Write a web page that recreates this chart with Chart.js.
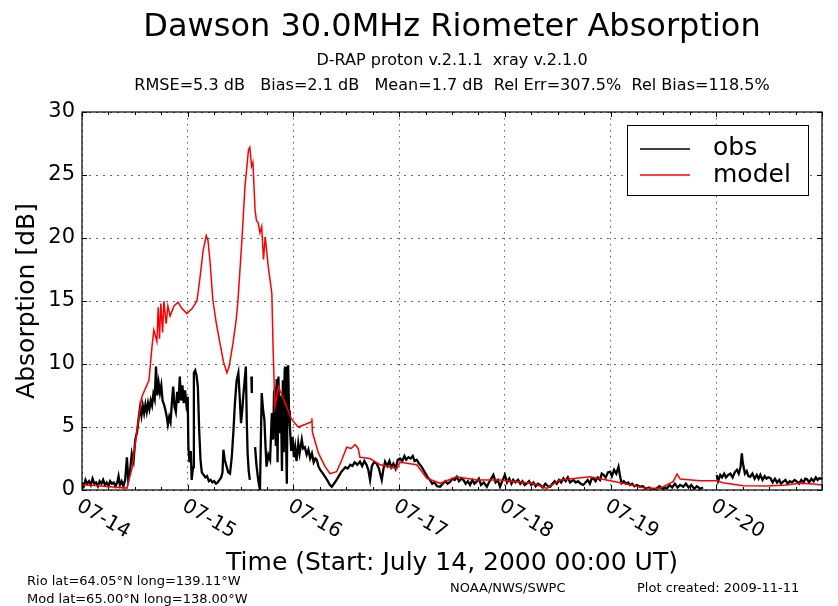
<!DOCTYPE html>
<html>
<head>
<meta charset="utf-8">
<script src="https://cdn.jsdelivr.net/npm/chart.js@4/dist/chart.umd.min.js"></script>
<style>
  html, body { margin: 0; padding: 0; background: #fff; }
  #wrap { width: 838px; height: 606px; }
</style>
</head>
<body>
<div id="wrap"><canvas id="riometerChart" width="838" height="606"></canvas></div>
<script>
// hours since 2000-07-14 00:00 UT
const dayLabels = ["07-14", "07-15", "07-16", "07-17", "07-18", "07-19", "07-20", ""];
const yTicks = [0, 5, 10, 15, 20, 25, 30];

const obsHours = [
    0.0, 0.4, 0.8, 1.2, 1.6, 2.0, 2.4, 2.8, 3.2, 3.6, 4.0, 4.4, 4.8, 5.2, 5.6, 6.0, 6.4, 6.8, 7.2, 7.6,
    8.0, 8.3, 8.6, 9.0, 9.4, 9.8, 10.2, 10.5, 10.9, 11.3, 11.7, 12.1, 12.5, 12.9, 13.2, 13.5, 13.8, 14.1, 14.4, 14.7,
    15.0, 15.3, 15.6, 15.9, 16.2, 16.5, 16.8, 17.1, 17.4, 17.7, 18.0, 18.3, 18.6, 18.9, 19.2, 19.5, 19.8, 20.1, 20.4, 20.7,
    21.0, 21.3, 21.6, 21.9, 22.2, 22.5, 22.8, 23.1, 23.4, 23.7, 24.0, 24.15, 24.4, 24.7, 24.9, 25.2, 25.4, 25.7, 26.0, 26.3,
    26.6, 26.9, 27.2, 27.6, 28.0, 28.4, 28.8, 29.2, 29.6, 30.0, 30.4, 30.8, 31.2, 31.6, 31.9, 32.1, 32.4, 32.8, 33.2, 33.6,
    34.0, 34.35, 34.7, 35.1, 35.5, 35.8, 36.1, 36.4, 36.6, 36.9, 37.2, 37.4, 37.6, 37.85, 38.1, 38.3, 38.45, 38.55, 38.8, 39.3,
    39.6, 40.0, 40.4, 40.8, 41.1, 41.4, 41.7, 41.9, 42.3, 42.7, 43.1, 43.4, 43.6, 43.8, 44.0, 44.2, 44.4, 44.6, 44.8, 45.0,
    45.2, 45.4, 45.6, 45.8, 46.0, 46.1, 46.3, 46.5, 46.7, 46.8, 47.0, 47.2, 47.5, 47.8, 48.1, 48.4, 48.7, 49.1, 49.4, 49.9,
    50.2, 50.6, 51.0, 51.4, 51.8, 52.2, 52.6, 53.0, 53.3, 53.7, 54.1, 54.7, 55.2, 55.8, 56.3, 56.7, 57.2, 57.8, 58.3, 58.8,
    59.3, 59.8, 60.3, 60.9, 61.4, 61.9, 62.5, 63.1, 63.6, 64.1, 64.6, 65.0, 65.4, 65.8, 66.3, 66.9, 67.4, 68.05, 68.4, 68.8,
    69.3, 69.8, 70.2, 70.7, 71.2, 71.7, 72.2, 72.7, 73.2, 73.6, 74.1, 74.6, 75.1, 75.5, 76.0, 76.5, 77.0, 77.5, 78.0, 78.5,
    79.0, 79.5, 80.0, 80.6, 81.3, 81.9, 82.5, 83.0, 83.6, 84.1, 84.6, 85.1, 85.6, 86.1, 86.6, 87.1, 87.6, 88.1, 88.6, 89.1,
    89.6, 90.1, 90.6, 91.2, 91.9, 92.4, 92.9, 93.4, 93.9, 94.4, 94.9, 95.4, 96.0, 96.5, 97.0, 97.5, 97.9, 98.4, 99.0, 99.5,
    100.0, 100.5, 101.0, 101.5, 102.0, 102.5, 103.0, 103.5, 104.0, 104.6, 105.2, 105.8, 106.3, 106.8, 107.3, 107.8, 108.3, 108.8, 109.3, 109.8,
    110.3, 110.8, 111.6, 112.1, 112.6, 113.2, 113.8, 114.3, 114.8, 115.3, 115.7, 116.1, 116.6, 117.1, 117.6, 118.0, 118.4, 118.9, 119.4, 119.9,
    120.3, 120.8, 121.3, 121.8, 122.1, 122.5, 123.0, 123.5, 124.0, 124.4, 124.9, 125.4, 126.0, 126.7, 127.3, 128.0, 128.7, 129.7, 130.4, 131.1,
    131.8, 132.5, 132.8, 133.4, 134.0, 134.6, 135.2, 135.8, 136.5, 137.1, 137.7, 138.3, 139.0, 139.6, 140.3, 141.0, 142.5, 144.1, 144.4, 144.9,
    145.3, 145.8, 146.2, 146.7, 147.2, 147.7, 148.2, 148.7, 149.1, 149.5, 149.8, 150.0, 150.2, 150.5, 150.9, 151.3, 151.7, 152.2, 152.7, 153.2,
    153.6, 154.0, 154.5, 155.0, 155.4, 155.8, 156.3, 156.8, 157.3, 157.8, 158.3, 158.7, 159.2, 159.7, 160.2, 160.7, 161.2, 161.8, 162.3, 162.8,
    163.3, 163.8, 164.2, 164.6, 165.1, 165.6, 166.1, 166.6, 167.0, 167.4, 168.0
];
const obsDb = [
    0.6, 0.3, 0.8, 0.5, 0.7, 0.4, 0.9, 0.5, 0.6, 0.3, 0.7, 0.5, 0.8, 0.4, 0.6, 0.3, 0.7, 0.5, 0.6, 0.3,
    0.6, 1.1, 0.4, 0.7, 0.3, 0.8, 2.6, 0.8, 1.5, 2.9, 2.3, 4.0, 4.6, 5.8, 6.6, 5.9, 6.7, 6.1, 6.8, 6.2,
    6.9, 6.4, 7.1, 6.7, 7.6, 7.2, 9.8, 7.5, 8.5, 7.7, 8.3, 7.1, 6.8, 6.4, 5.9, 5.2, 5.8, 5.4, 6.9, 8.2,
    6.6, 6.2, 7.8, 6.9, 9.0, 7.1, 8.3, 6.9, 7.9, 6.8, 7.4, 3.4, 2.2, 3.1, 0.8, 1.8, 9.3, 9.5, 9.1, 8.2,
    4.8, 2.4, 1.4, 1.2, 1.0, 1.1, 0.7, 0.8, 0.6, 0.7, 0.5, 0.6, 0.8, 1.0, 1.4, 3.2, 2.4, 1.9, 1.4, 1.3,
    2.6, 4.5, 6.8, 8.7, 9.3, 7.4, 5.3, 6.4, 7.4, 8.6, 9.8, 5.6, 2.9, 1.5, 0.8, null, 9.0, 7.7, null, 3.4,
    2.0, 0.8, 0.0, 7.7, 6.4, 5.6, 3.2, 1.85, 2.8, 2.4, 6.1, 4.0, 7.8, 8.2, 3.5, 8.8, 2.2, 9.0, 4.5, 7.5,
    6.1, 1.5, 8.7, 3.0, 9.4, 9.8, 4.5, 0.5, 9.2, 9.9, 6.3, 5.0, 3.1, 4.2, 2.6, 3.4, 2.3, 3.7, 2.9, 4.0,
    3.3, 3.4, 2.8, 3.2, 2.5, 2.9, 2.2, 2.5, 2.4, 1.85, 1.6, 1.3, 1.05, 0.7, 0.4, 0.26, 0.5, 0.8, 1.1, 1.4,
    1.6, 1.8, 1.7, 2.0, 1.9, 2.2, 2.0, 2.25, 1.9, 2.3, 2.0, 1.6, 0.8, 1.9, 2.2, 2.1, 1.7, 0.8, 1.6, 2.25,
    1.9, 2.3, 1.8, 2.1, 1.7, 2.4, 2.5, 2.3, 2.7, 2.4, 2.6, 2.5, 2.7, 2.3, 2.4, 2.1, 1.9, 1.6, 1.3, 1.0,
    0.8, 0.5, 0.6, 0.3, 0.26, 0.5, 0.7, 0.5, 0.66, 0.9, 0.8, 1.05, 0.7, 0.9, 0.8, 0.5, 0.7, 0.4, 0.8, 0.5,
    0.66, 0.9, 0.4, 0.6, 0.26, 0.6, 0.9, 1.2, 0.6, 0.8, 0.26, 0.7, 1.2, 0.6, 0.9, 0.5, 0.8, 0.6, 0.8, 0.5,
    0.7, 0.4, 0.53, 0.7, 0.4, 0.6, 0.3, 0.5, 0.4, 0.2, 0.5, 0.3, 0.26, 0.5, 0.7, 0.5, 0.8, 0.6, 0.93, 0.7,
    1.0, 0.6, 0.8, 0.6, 0.7, 0.5, 0.4, 0.6, 0.8, 0.5, 0.9, 0.93, 0.7, 1.0, 0.8, 1.3, 1.2, 1.0, 1.4, 1.45,
    1.1, 1.6, 1.3, 1.85, 1.2, 0.53, 0.7, 0.5, 0.6, 0.4, 0.5, 0.3, 0.4, 0.26, 0.3, 0.1, 0.2, 0.0, 0.1, 0.3,
    0.1, 0.2, 0.13, 0.4, 0.2, 0.5, 0.2, 0.4, 0.26, 0.5, 0.2, 0.4, 0.1, 0.3, 0.1, 0.2, null, 1.2, 0.7, 1.2,
    1.0, 1.3, 1.0, 1.2, 1.3, 1.0, 1.4, 1.6, 1.3, 1.8, 2.9, 2.2, 1.85, 1.3, 1.5, 1.1, 1.05, 1.3, 0.9, 1.2,
    0.9, 1.2, 0.8, 1.1, 0.9, 1.0, 0.93, 0.6, 0.9, 0.6, 0.8, 0.5, 0.66, 0.8, 0.5, 0.7, 0.6, 0.8, 0.66, 0.5,
    0.8, 0.6, 0.9, 0.85, 0.6, 0.9, 0.7, 1.0, 0.8, 0.93, 0.9
];

const modelHours = [
    0.0, 3.0, 6.4, 10.2, 11.4, 12.5, 13.6, 15.2, 15.9, 16.3, 17.0, 17.3, 17.6, 17.9, 18.3, 18.6, 19.1, 19.5, 20.0, 20.9,
    21.8, 22.7, 23.8, 25.0, 26.1, 26.8, 27.5, 28.2, 28.6, 29.1, 29.7, 30.5, 31.3, 32.1, 32.9, 33.4, 34.3, 35.0, 35.4, 36.3,
    37.0, 37.8, 38.1, 38.5, 38.8, 39.3, 39.6, 40.0, 40.4, 40.8, 41.2, 41.6, 42.3, 43.1, 43.4, 43.8, 44.6, 46.1, 47.6, 49.1,
    50.6, 52.0, 52.2, 52.3, 53.7, 55.2, 56.3, 57.8, 59.0, 60.1, 61.1, 62.0, 62.7, 63.1, 65.4, 67.7, 71.5, 72.2, 76.0, 78.3,
    81.3, 85.1, 89.6, 94.9, 98.7, 102.4, 105.5, 108.5, 112.3, 115.3, 119.1, 122.8, 128.2, 131.2, 134.2, 135.1, 135.8, 140.3, 144.1, 145.5,
    150.1, 155.5, 159.2, 163.0, 166.0, 168.0
];
const modelDb = [
    0.4, 0.35, 0.25, 0.15, 1.8, 4.8, 7.4, 8.7, 11.4, 12.7, 11.8, 14.5, 12.0, 14.8, 12.5, 15.0, 13.2, 14.6, 13.8, 14.6,
    14.9, 14.4, 14.0, 14.4, 15.0, 16.9, 19.0, 20.2, 19.8, 18.0, 15.1, 13.2, 11.7, 10.2, 9.3, 9.8, 11.7, 13.5, 15.0, 19.8,
    24.1, 27.0, 27.2, 25.7, 26.0, 22.2, 21.4, 21.2, 20.4, 20.9, 18.3, 20.1, 17.7, 15.6, 11.0, 6.6, 8.2, 6.9, 5.6, 5.0,
    5.2, 5.4, 5.7, 4.6, 2.9, 1.85, 1.3, 1.45, 2.4, 3.4, 3.3, 3.6, 3.3, 2.6, 2.5, 2.0, 1.7, 2.2, 2.0, 0.93,
    0.53, 1.05, 0.8, 0.8, 0.66, 0.53, 0.13, 0.8, 0.93, 1.05, 0.8, 0.53, 0.13, 0.13, 0.66, 1.27, 0.87, 0.73, 0.73, 0.58,
    0.34, 0.32, 0.37, 0.53, 0.48, 0.4
];

const FONT = "'DejaVu Sans', 'Liberation Sans', sans-serif";

function toPoints(hours, values) {
    return hours.map((h, i) => ({ x: h, y: values[i] }));
}

// text drawn a little wider than the font, the reference looks stretched
function wideText(ctx, text, x, y, sx) {
    ctx.save();
    ctx.translate(x, y);
    ctx.scale(sx, 1);
    ctx.fillText(text, 0, 0);
    ctx.restore();
}

const decorations = {
    id: "decorations",
    afterDraw(chart) {
        const ctx = chart.ctx;
        const area = chart.chartArea;
        const xs = chart.scales.x;
        const ys = chart.scales.y;
        const midX = (area.left + area.right) / 2;

        ctx.save();
        ctx.fillStyle = "#000";
        ctx.strokeStyle = "#000";

        // frame
        ctx.lineWidth = 1.2;
        ctx.strokeRect(area.left, area.top, area.right - area.left, area.bottom - area.top);

        // inward ticks, major every day, minor every 6 hours
        ctx.lineWidth = 1;
        ctx.beginPath();
        for (let h = 0; h <= 168; h += 6) {
            const px = Math.round(xs.getPixelForValue(h)) + 0.5;
            const len = h % 24 === 0 ? 5 : 3;
            ctx.moveTo(px, area.bottom);
            ctx.lineTo(px, area.bottom - len);
            ctx.moveTo(px, area.top);
            ctx.lineTo(px, area.top + len);
        }
        yTicks.forEach(v => {
            const py = Math.round(ys.getPixelForValue(v)) + 0.5;
            ctx.moveTo(area.left, py);
            ctx.lineTo(area.left + 5, py);
            ctx.moveTo(area.right, py);
            ctx.lineTo(area.right - 5, py);
        });
        ctx.stroke();

        // rotated day labels
        ctx.font = "20px " + FONT;
        ctx.textAlign = "left";
        ctx.textBaseline = "top";
        xs.ticks.forEach((t, i) => {
            const label = dayLabels[i];
            if (!label) return;
            const px = xs.getPixelForValue(t.value);
            ctx.save();
            ctx.translate(px + 1, area.bottom + 6);
            ctx.rotate(Math.PI / 6);
            ctx.fillText(label, 0, 0);
            ctx.restore();
        });

        // titles
        ctx.textAlign = "center";
        ctx.textBaseline = "alphabetic";
        ctx.font = "32px " + FONT;
        ctx.fillText("Dawson 30.0MHz Riometer Absorption", midX, 36);
        ctx.font = "15px " + FONT;
        wideText(ctx, "D-RAP proton v.2.1.1  xray v.2.1.0", midX, 65, 1.07);
        wideText(ctx, "RMSE=5.3 dB   Bias=2.1 dB   Mean=1.7 dB  Rel Err=307.5%  Rel Bias=118.5%", midX, 90, 1.07);

        // axis labels
        ctx.font = "25px " + FONT;
        ctx.fillText("Time (Start: July 14, 2000 00:00 UT)", midX, 570);
        ctx.save();
        ctx.translate(34, (area.top + area.bottom) / 2);
        ctx.rotate(-Math.PI / 2);
        ctx.fillText("Absorption [dB]", 0, 0);
        ctx.restore();

        // footer notes
        ctx.font = "13px " + FONT;
        ctx.textAlign = "left";
        ctx.fillText("Rio lat=64.05\u00B0N long=139.11\u00B0W", 27, 585);
        ctx.fillText("Mod lat=65.00\u00B0N long=138.00\u00B0W", 27, 603);
        ctx.fillText("NOAA/NWS/SWPC", 450, 592);
        ctx.fillText("Plot created: 2009-11-11", 637, 592);

        // legend
        const lx = 627, ly = 125, lw = 181, lh = 70;
        ctx.fillStyle = "#fff";
        ctx.fillRect(lx, ly, lw, lh);
        ctx.lineWidth = 1;
        ctx.strokeStyle = "#000";
        ctx.strokeRect(lx + 0.5, ly + 0.5, lw, lh);
        ctx.lineWidth = 1.5;
        ctx.beginPath();
        ctx.moveTo(640, 149);
        ctx.lineTo(690, 149);
        ctx.stroke();
        ctx.strokeStyle = "#ff0000";
        ctx.beginPath();
        ctx.moveTo(640, 175);
        ctx.lineTo(690, 175);
        ctx.stroke();
        ctx.fillStyle = "#000";
        ctx.font = "25px " + FONT;
        ctx.textBaseline = "middle";
        ctx.fillText("obs", 713, 148);
        ctx.fillText("model", 713, 175);

        ctx.restore();
    }
};

const chart = new Chart(document.getElementById("riometerChart"), {
    type: "line",
    data: {
        datasets: [
            {
                label: "obs",
                data: toPoints(obsHours, obsDb),
                borderColor: "#000000",
                borderWidth: 2.3,
                pointRadius: 0,
                tension: 0,
                spanGaps: false,
                order: 1
            },
            {
                label: "model",
                data: toPoints(modelHours, modelDb),
                borderColor: "#ff0000",
                borderWidth: 1.5,
                pointRadius: 0,
                tension: 0,
                order: 0
            }
        ]
    },
    options: {
        responsive: false,
        animation: false,
        devicePixelRatio: 1,
        layout: { padding: { left: 0, top: 112, right: 16, bottom: 116 } },
        plugins: {
            legend: { display: false },
            tooltip: { enabled: false }
        },
        scales: {
            x: {
                type: "linear",
                min: 0,
                max: 168,
                ticks: { display: false, stepSize: 24 },
                grid: { color: "rgba(0,0,0,0.6)", lineWidth: 1, drawTicks: false },
                border: { display: false, dash: [1.5, 4.5] },
                afterFit: s => { s.height = 0; }
            },
            y: {
                min: 0,
                max: 30,
                ticks: {
                    stepSize: 5,
                    color: "#000",
                    padding: 7,
                    font: { family: FONT, size: 21 }
                },
                grid: { color: "rgba(0,0,0,0.6)", lineWidth: 1, drawTicks: false },
                border: { display: false, dash: [2, 5] },
                afterFit: s => { s.width = 82; }
            }
        }
    },
    plugins: [decorations]
});
</script>
</body>
</html>
